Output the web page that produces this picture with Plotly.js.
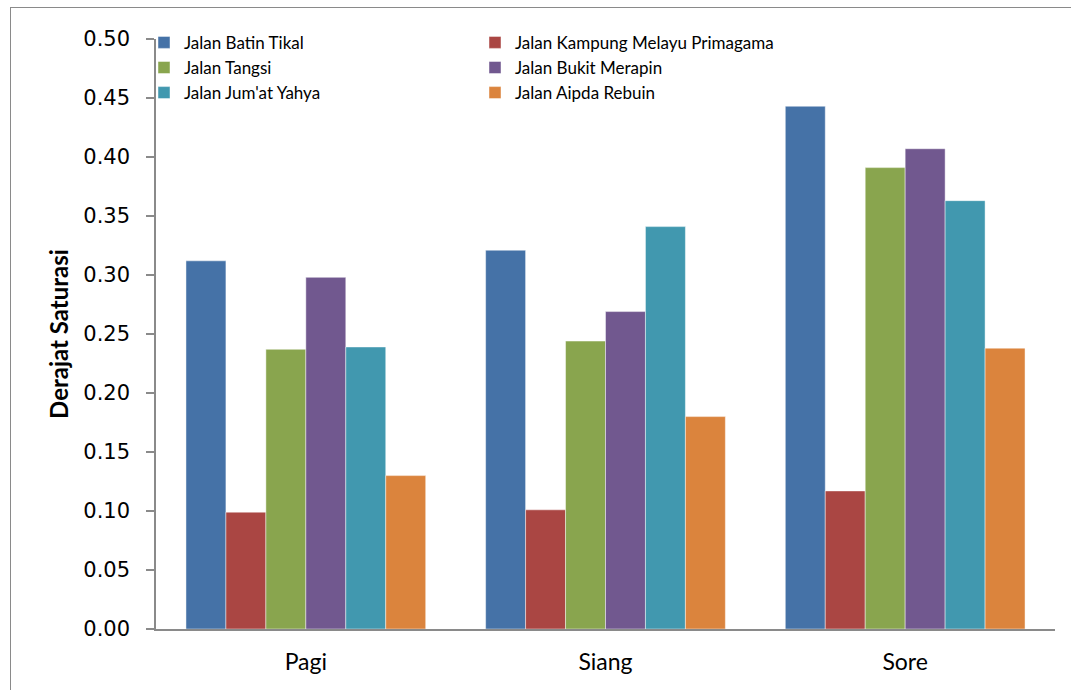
<!DOCTYPE html>
<html>
<head>
<meta charset="utf-8">
<script src="https://cdn.plot.ly/plotly-3.0.1.min.js"></script>
<style>
  html, body { margin: 0; padding: 0; background: #fff; overflow: hidden; }
  #wrap { position: relative; width: 1071px; height: 690px; }
  #chart { width: 1071px; height: 690px; }
  #frame { position: absolute; left: 10px; top: 7px; width: 1080px; height: 700px;
           border: 1.5px solid #8a8a8a; pointer-events: none; box-sizing: border-box; }
</style>
</head>
<body>
<div id="wrap">
  <div id="chart"></div>
  <div id="frame"></div>
</div>
<script>
const categories = ["Pagi", "Siang", "Sore"];
const seriesNames = [
  "Jalan Batin Tikal",
  "Jalan Kampung Melayu Primagama",
  "Jalan Tangsi",
  "Jalan Bukit Merapin",
  "Jalan Jum'at Yahya",
  "Jalan Aipda Rebuin"
];
const batinTikal      = [0.312, 0.321, 0.443];
const kampungMelayu   = [0.099, 0.101, 0.117];
const tangsi          = [0.237, 0.244, 0.391];
const bukitMerapin    = [0.298, 0.269, 0.407];
const jumatYahya      = [0.239, 0.341, 0.363];
const aipdaRebuin     = [0.130, 0.180, 0.238];
const seriesColors = ["#4572A7", "#AA4643", "#89A54E", "#71588F", "#4198AF", "#DB843D"];
const yTitle = "Derajat Saturasi";

const allValues = [batinTikal, kampungMelayu, tangsi, bukitMerapin, jumatYahya, aipdaRebuin];

const traces = allValues.map((vals, i) => ({
  type: "bar",
  name: seriesNames[i],
  x: categories,
  y: vals,
  marker: { color: seriesColors[i], line: { color: "rgba(255,255,255,0.45)", width: 1 } },
  hoverinfo: "x+y+name"
}));

const layout = {
  width: 1071,
  height: 690,
  margin: { l: 156, r: 16, t: 39, b: 61 },
  paper_bgcolor: "#ffffff",
  plot_bgcolor: "#ffffff",
  barmode: "group",
  bargap: 0.2,
  bargroupgap: 0,
  showlegend: true,
  legend: {
    orientation: "h",
    x: 0.0,
    xanchor: "left",
    y: 1.024,
    yanchor: "top",
    entrywidth: 298,
    entrywidthmode: "pixels",
    itemwidth: 30,
    indentation: -12,
    tracegroupgap: 0,
    font: { family: "Lato, 'Open Sans', sans-serif", size: 17, color: "#000" },
    bgcolor: "rgba(0,0,0,0)"
  },
  xaxis: {
    type: "category",
    showline: true,
    linecolor: "#8a8a8a",
    linewidth: 1.5,
    ticks: "",
    showgrid: false,
    zeroline: false,
    tickfont: { family: "Lato, 'Open Sans', sans-serif", size: 23, color: "#000" },
    ticklabelstandoff: 12
  },
  yaxis: {
    range: [0, 0.5],
    dtick: 0.05,
    tick0: 0,
    tickformat: ".2f",
    showline: true,
    linecolor: "#8a8a8a",
    linewidth: 1.5,
    ticks: "outside",
    ticklen: 8,
    tickwidth: 1.5,
    tickcolor: "#8a8a8a",
    showgrid: false,
    zeroline: false,
    ticklabelstandoff: 12,
    tickfont: { family: "DejaVu Sans, Verdana, sans-serif", size: 21, color: "#000" },
    title: {
      text: yTitle,
      font: { family: "Lato, 'Open Sans', sans-serif", size: 24, color: "#000", weight: "bold" },
      standoff: 8
    }
  },
  font: { family: "Lato, sans-serif", color: "#000" }
};

Plotly.newPlot("chart", traces, layout, { displayModeBar: false, responsive: false });
</script>
</body>
</html>
